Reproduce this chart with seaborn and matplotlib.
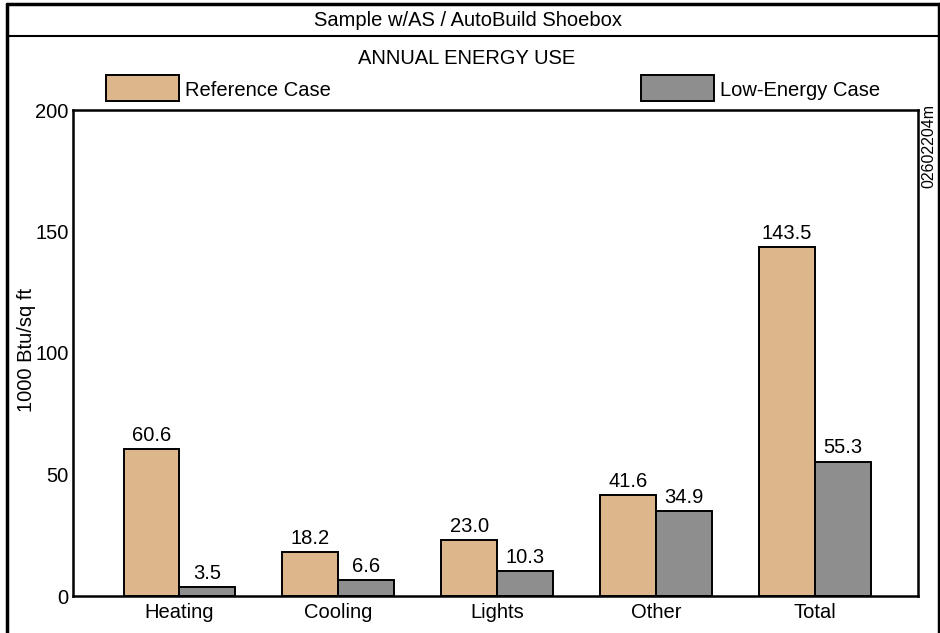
import matplotlib
matplotlib.use("Agg")
import matplotlib.pyplot as plt
import pandas as pd
import seaborn as sns
from matplotlib.patches import Rectangle
from matplotlib.lines import Line2D

categories = ["Heating", "Cooling", "Lights", "Other", "Total"]
cases = ["Reference Case", "Low-Energy Case"]
reference = [60.6, 18.2, 23.0, 41.6, 143.5]
low_energy = [3.5, 6.6, 10.3, 34.9, 55.3]
yticks = [0, 50, 100, 150, 200]

TAN = "#DEB68C"
GRAY = "#8E8E8E"
FS = 14.5

df = pd.DataFrame({
    "category": categories * 2,
    "case": [cases[0]] * len(categories) + [cases[1]] * len(categories),
    "value": reference + low_energy,
})

sns.set_theme(style="white")
plt.rcParams["font.family"] = ["Liberation Sans", "DejaVu Sans"]
plt.rcParams["text.color"] = "black"

W, H = 940, 633
fig = plt.figure(figsize=(9.4, 6.33), dpi=100)
ax = fig.add_axes([73 / W, 1 - 596 / H, (918 - 73) / W, (596 - 110) / H])

sns.barplot(data=df, x="category", y="value", hue="case", order=categories,
            hue_order=cases, palette=[TAN, GRAY], width=0.704, gap=0,
            edgecolor="black", linewidth=1.4, saturation=1, legend=False, ax=ax)

for container in ax.containers:
    ax.bar_label(container, fmt="%.1f", padding=3, fontsize=FS, color="black")

ax.set_xlim(-0.67, 4.65)
ax.set_ylim(0, 200)
ax.set_yticks(yticks)
ax.tick_params(axis="both", length=0, labelsize=FS, colors="black")
ax.tick_params(axis="x", pad=5)
ax.tick_params(axis="y", pad=3)
ax.set_xlabel("")
ax.set_ylabel("")
for s in ax.spines.values():
    s.set_color("black")
    s.set_linewidth(1.8)

fig.text(26 / W, 1 - 350 / H, "1000 Btu/sq ft", rotation=90, ha="center", va="center", fontsize=FS)

# outer frame and title bar
fig.add_artist(Line2D([7 / W, 7 / W], [0, 1 - 4 / H], color="black", lw=2.5, transform=fig.transFigure))
fig.add_artist(Line2D([7 / W, 1], [1 - 4 / H, 1 - 4 / H], color="black", lw=2.5, transform=fig.transFigure))
fig.add_artist(Line2D([1 - 1 / W, 1 - 1 / W], [0, 1 - 4 / H], color="black", lw=2.5, transform=fig.transFigure))
fig.add_artist(Line2D([7 / W, 1], [1 - 36 / H, 1 - 36 / H], color="black", lw=1.5, transform=fig.transFigure))
fig.text(468 / W, 1 - 21 / H, "Sample w/AS / AutoBuild Shoebox", ha="center", va="center", fontsize=FS)
fig.text(467 / W, 1 - 58 / H, "ANNUAL ENERGY USE", ha="center", va="center", fontsize=FS)

# legend
for x0, color, label in [(106, TAN, cases[0]), (641, GRAY, cases[1])]:
    fig.add_artist(Rectangle((x0 / W, 1 - 101 / H), 73 / W, 26 / H, facecolor=color,
                             edgecolor="black", lw=1.4, transform=fig.transFigure))
    fig.text((x0 + 79) / W, 1 - 90 / H, label, ha="left", va="center", fontsize=FS)

fig.text(929 / W, 1 - 104 / H, "02602204m", rotation=90, ha="center", va="top", fontsize=11.5)

fig.savefig("out.png", dpi=100)
